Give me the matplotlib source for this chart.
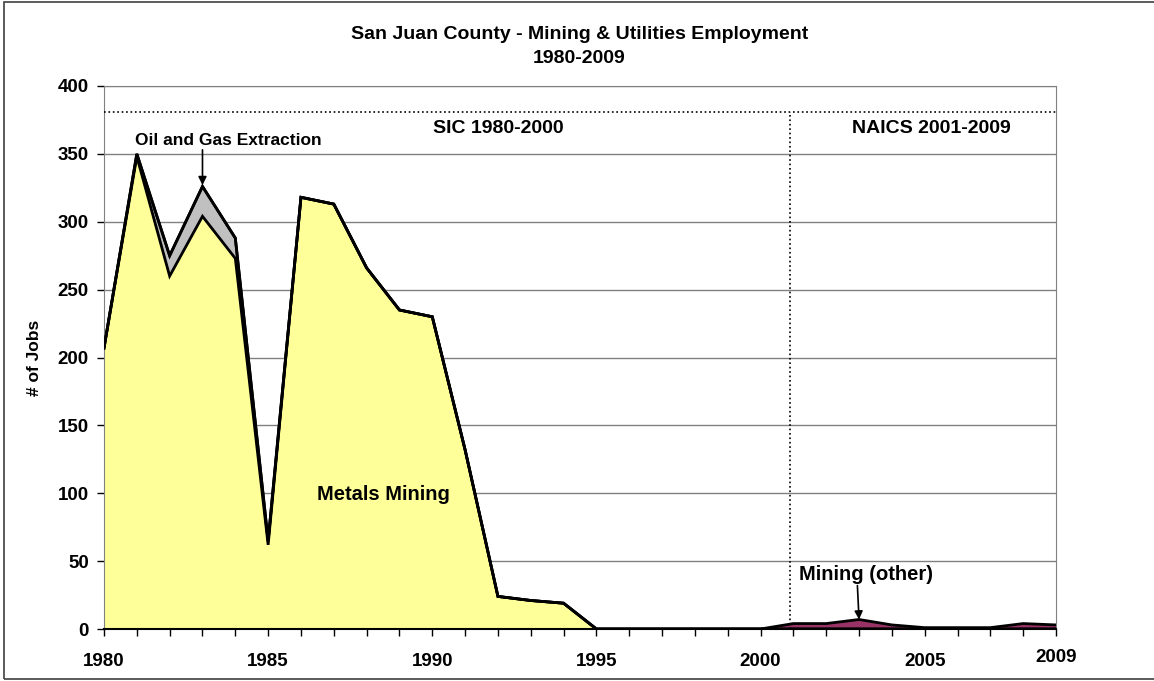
import numpy as np
import matplotlib.pyplot as plt
from matplotlib.patches import Rectangle
from matplotlib.transforms import ScaledTranslation

plt.rcParams['font.family'] = ['Liberation Sans', 'DejaVu Sans']

# Employment data
years = np.arange(1980, 2010)
metals_mining = [207, 348, 260, 304, 273, 62, 318, 313, 266, 235,
                 230, 132, 24, 21, 19, 0, 0, 0, 0, 0,
                 0, 0, 0, 0, 0, 0, 0, 0, 0, 0]
oil_gas = [0, 2, 15, 22, 15, 3, 0, 0, 0, 0,
           0, 0, 0, 0, 0, 0, 0, 0, 0, 0,
           0, 0, 0, 0, 0, 0, 0, 0, 0, 0]
mining_other = [0, 0, 0, 0, 0, 0, 0, 0, 0, 0,
                0, 0, 0, 0, 0, 0, 0, 0, 0, 0,
                0, 4, 4, 7, 3, 1, 1, 1, 4, 3]

x_labels = [1980, 1985, 1990, 1995, 2000, 2005, 2009]

fig = plt.figure(figsize=(11.54, 6.81), dpi=100)
# outer chart border
fig.patches.append(Rectangle((4 / 1154, 2 / 681), 1.0, 677 / 681, transform=fig.transFigure,
                             fill=False, edgecolor='#404040', linewidth=1.2))
ax = fig.add_axes([104 / 1154, 52 / 681, 952 / 1154, 543 / 681])

colors = ['#FFFF99', '#C0C0C0', '#993366']
ax.stackplot(years, metals_mining, oil_gas, mining_other, colors=colors, zorder=2)

# black outlines on top of each layer
cum1 = np.array(metals_mining)
cum2 = cum1 + np.array(oil_gas)
cum3 = cum2 + np.array(mining_other)
for c in (cum1, cum2, cum3):
    ax.plot(years, c, color='black', linewidth=2, zorder=3, solid_joinstyle='miter')

ax.set_xlim(1980, 2009)
ax.set_ylim(0, 400)
ax.set_yticks(np.arange(0, 401, 50))
ax.yaxis.grid(True, color='#808080', linewidth=1)
ax.set_axisbelow(True)

ax.set_xticks(x_labels)
ax.set_xticks(years, minor=True)
ax.tick_params(axis='x', which='both', direction='out', length=5, width=1, colors='black', pad=12)
ax.tick_params(axis='y', direction='out', length=5, width=1, pad=6)
for lbl in ax.get_xticklabels() + ax.get_yticklabels():
    lbl.set_fontweight('bold')
    lbl.set_fontsize(13.5)
lab09 = ax.get_xticklabels()[-1]
lab09.set_transform(lab09.get_transform() + ScaledTranslation(0, 4 / 100, fig.dpi_scale_trans))

for s in ('top', 'right', 'left'):
    ax.spines[s].set_color('#808080')
ax.spines['bottom'].set_linewidth(1.5)

ax.set_ylabel('# of Jobs', fontsize=12.5, fontweight='bold', labelpad=11)

# SIC / NAICS divider lines
ax.axhline(381, color='black', linestyle=':', linewidth=1.2, zorder=4)
ax.plot([2000.9, 2000.9], [0, 381], color='black', linestyle=':', linewidth=1.2, zorder=4)
ax.text(1992.0, 369, 'SIC 1980-2000', ha='center', va='center', fontsize=14, fontweight='bold')
ax.text(2005.2, 369, 'NAICS 2001-2009', ha='center', va='center', fontsize=14, fontweight='bold')

# annotations
ax.text(1983.8, 360, 'Oil and Gas Extraction', fontsize=12.5, fontweight='bold',
        ha='center', va='center', zorder=5)
ax.annotate('', xy=(1983, 327), xytext=(1983, 353),
            arrowprops=dict(arrowstyle='-|>', color='black', lw=1.2,
                            shrinkA=0, shrinkB=0, mutation_scale=12), zorder=5)
ax.text(2003.2, 40, 'Mining (other)', fontsize=14.5, fontweight='bold',
        ha='center', va='center', zorder=5)
ax.annotate('', xy=(2003, 7), xytext=(2002.95, 32),
            arrowprops=dict(arrowstyle='-|>', color='black', lw=1.2,
                            shrinkA=0, shrinkB=0, mutation_scale=12), zorder=5)
ax.text(1988.5, 99, 'Metals Mining', fontsize=14.5, fontweight='bold', ha='center', va='center', zorder=5)

fig.text(0.502, 0.949, 'San Juan County - Mining & Utilities Employment', ha='center', va='center',
         fontsize=14, fontweight='bold')
fig.text(0.502, 0.914, '1980-2009', ha='center', va='center', fontsize=14, fontweight='bold')

fig.savefig('out.png', dpi=100)
